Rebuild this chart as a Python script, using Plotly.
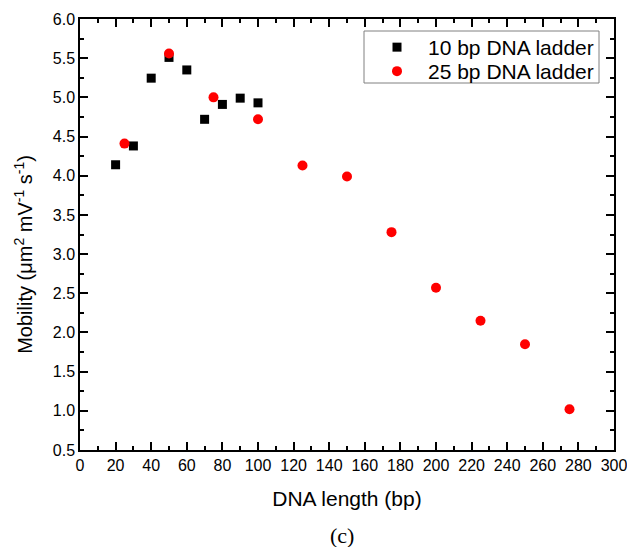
import plotly.graph_objects as go

# Data
len_10bp = [20, 30, 40, 50, 60, 70, 80, 90, 100]
mob_10bp = [4.14, 4.38, 5.245, 5.51, 5.35, 4.72, 4.91, 4.99, 4.93]

len_25bp = [25, 50, 75, 100, 125, 150, 175, 200, 225, 250, 275]
mob_25bp = [4.41, 5.56, 5.00, 4.72, 4.13, 3.99, 3.28, 2.57, 2.15, 1.85, 1.02]

x_range = [0, 300]
y_range = [0.5, 6.0]

FONT = "Liberation Sans"

fig = go.Figure()
fig.add_trace(go.Scatter(
    x=len_10bp, y=mob_10bp, mode="markers", name="10 bp DNA ladder",
    marker=dict(symbol="square", size=9, color="black"), legend="legend",
))
fig.add_trace(go.Scatter(
    x=len_25bp, y=mob_25bp, mode="markers", name="25 bp DNA ladder",
    marker=dict(symbol="circle", size=10, color="red"), legend="legend2",
))

axis_common = dict(
    showline=True, linecolor="black", linewidth=1.5, mirror="ticks",
    ticks="inside", ticklen=8, tickwidth=1.5, tickcolor="black",
    showgrid=False, zeroline=False, ticklabeloverflow="allow",
    automargin=False,
    tickfont=dict(family=FONT, size=16, color="black"),
)

fig.update_xaxes(
    range=x_range, dtick=20, tick0=0,
    minor=dict(dtick=10, ticks="inside", ticklen=4, tickwidth=1.5, tickcolor="black", showgrid=False),
    title=dict(text="DNA length (bp)", font=dict(family=FONT, size=21, color="black"), standoff=18),
    **axis_common,
)
fig.update_yaxes(
    range=y_range, dtick=0.5, tick0=0.5, tickformat=".1f",
    minor=dict(dtick=0.25, ticks="inside", ticklen=4, tickwidth=1.5, tickcolor="black", showgrid=False),
    **axis_common,
)

fig.add_annotation(
    text="Mobility (μm<sup>2</sup> mV<sup>-1</sup> s<sup>-1</sup>)",
    xref="paper", yref="paper", x=-0.105, y=0.455, textangle=-90,
    showarrow=False, xanchor="center", yanchor="middle",
    font=dict(family=FONT, size=20, color="black"),
)
fig.add_annotation(
    text="(c)", xref="paper", yref="paper", x=0.49, y=-0.198,
    showarrow=False, xanchor="center", yanchor="middle",
    font=dict(family="Liberation Serif", size=22, color="black"),
)

# legend frame
fig.add_shape(
    type="rect", xref="paper", yref="paper",
    x0=(364 - 80) / 534, x1=(599 - 80) / 534,
    y0=(450 - 83) / 431, y1=(450 - 31) / 431,
    line=dict(color="#808080", width=1), fillcolor="rgba(0,0,0,0)", layer="above",
)

leg_common = dict(
    x=(366 - 80) / 534, xanchor="left", yanchor="top",
    borderwidth=0, bgcolor="rgba(0,0,0,0)",
    font=dict(family=FONT, size=21, color="black"),
    itemwidth=52, tracegroupgap=0,
)

fig.update_layout(
    width=627, height=547,
    margin=dict(l=80, r=13, t=19, b=97),
    paper_bgcolor="white", plot_bgcolor="white",
    showlegend=True,
    legend=dict(y=(450 - 27) / 431, **leg_common),
    legend2=dict(y=(450 - 51) / 431, **leg_common),
)

fig.write_html("out.html")
